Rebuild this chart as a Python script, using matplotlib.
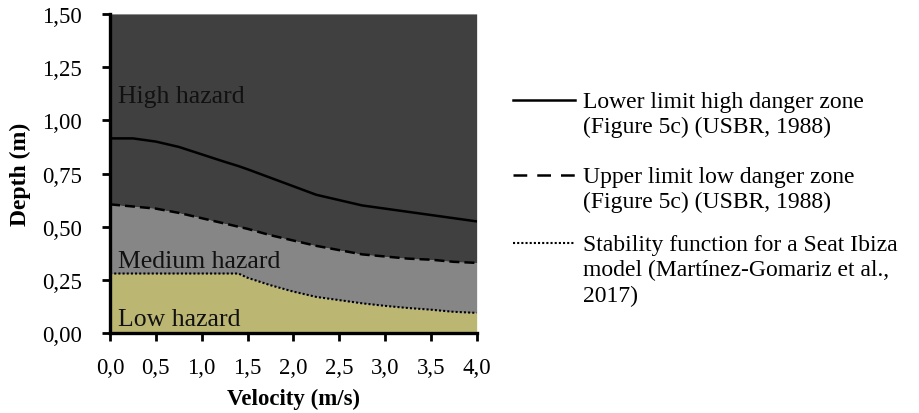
import numpy as np
import matplotlib
matplotlib.use('Agg')
import matplotlib.pyplot as plt
from matplotlib.lines import Line2D

plt.rcParams['font.family'] = ['Liberation Serif', 'DejaVu Serif']

# dados
velocidade = [0.0, 0.25, 0.5, 0.75, 1.0, 1.25, 1.4, 1.5, 1.75, 2.0, 2.25,
              2.5, 2.75, 3.0, 3.25, 3.5, 3.75, 4.0]
limite_alto = [0.915, 0.915, 0.90, 0.875, 0.84, 0.805, 0.785, 0.77, 0.73,
               0.69, 0.65, 0.625, 0.60, 0.585, 0.57, 0.555, 0.54, 0.525]
limite_baixo = [0.605, 0.595, 0.585, 0.565, 0.54, 0.515, 0.50, 0.49, 0.46,
                0.435, 0.41, 0.39, 0.37, 0.36, 0.35, 0.345, 0.335, 0.33]
estabilidade = [0.28, 0.28, 0.28, 0.28, 0.28, 0.28, 0.28, 0.26, 0.225,
                0.195, 0.17, 0.155, 0.14, 0.128, 0.118, 0.11, 0.10, 0.095]

yticks = [0.0, 0.25, 0.5, 0.75, 1.0, 1.25, 1.5]
ytick_labels = ['0,00', '0,25', '0,50', '0,75', '1,00', '1,25', '1,50']
xticks = [0.0, 0.5, 1.0, 1.5, 2.0, 2.5, 3.0, 3.5, 4.0]
xtick_labels = ['0,0', '0,5', '1,0', '1,5', '2,0', '2,5', '3,0', '3,5', '4,0']

rotulos = ['Lower limit high danger zone\n(Figure 5c) (USBR, 1988)',
           'Upper limit low danger zone\n(Figure 5c) (USBR, 1988)',
           'Stability function for a Seat Ibiza\nmodel (Martínez-Gomariz et al.,\n2017)']

COR_ALTO = '#404040'
COR_MEDIO = '#868686'
COR_BAIXO = '#bcb673'

fig = plt.figure(figsize=(9.2, 4.14), dpi=100)
ax = fig.add_axes([0.1196, 0.193, 0.3985, 0.771])

v = np.array(velocidade)
ax.fill_between(v, 0, estabilidade, color=COR_BAIXO, lw=0)
ax.fill_between(v, estabilidade, limite_baixo, color=COR_MEDIO, lw=0)
ax.fill_between(v, limite_baixo, 1.5, color=COR_ALTO, lw=0)

ax.plot(v, limite_alto, color='black', lw=1.8, ls='-')
ax.plot(v, limite_baixo, color='black', lw=1.8, ls=(0, (4, 2)))
ax.plot(v, estabilidade, color='black', lw=1.5, ls=(0, (1, 1)))

ax.text(0.09, 1.115, 'High hazard', fontsize=18.5, va='center', color='#111111')
ax.text(0.09, 0.338, 'Medium hazard', fontsize=18.5, va='center', color='#111111')
ax.text(0.09, 0.066, 'Low hazard', fontsize=18.5, va='center', color='#111111')

ax.set_xlim(0, 4)
ax.set_ylim(0, 1.5)
ax.set_xticks(xticks)
ax.set_xticklabels(xtick_labels)
ax.set_yticks(yticks)
ax.set_yticklabels(ytick_labels)
ax.tick_params(direction='out', length=6, width=2, labelsize=16.5)
ax.tick_params(axis='x', pad=11)
ax.tick_params(axis='y', pad=14)
for s in ['top', 'right']:
    ax.spines[s].set_visible(False)
for s in ['left', 'bottom']:
    ax.spines[s].set_linewidth(2.4)
ax.set_xlabel('Velocity (m/s)', fontsize=16.5, fontweight='bold', labelpad=7)
ax.set_ylabel('Depth (m)', fontsize=17, fontweight='bold', labelpad=8)

# legenda manual
estilos = ['-', (0, (5.5, 4)), (0, (1, 1))]
larguras = [1.8, 1.8, 1.5]
ys = [101, 176, 244]
for est, lw, y, txt in zip(estilos, larguras, ys, rotulos):
    yf = 1 - y / 414
    fig.add_artist(Line2D([513 / 920, 575 / 920], [yf, yf], color='black',
                          lw=lw, ls=est, transform=fig.transFigure))
    fig.text(583 / 920, yf + 0.0225, txt, fontsize=17, va='top', ha='left',
             linespacing=1.27)

fig.savefig('out.png', dpi=100)
